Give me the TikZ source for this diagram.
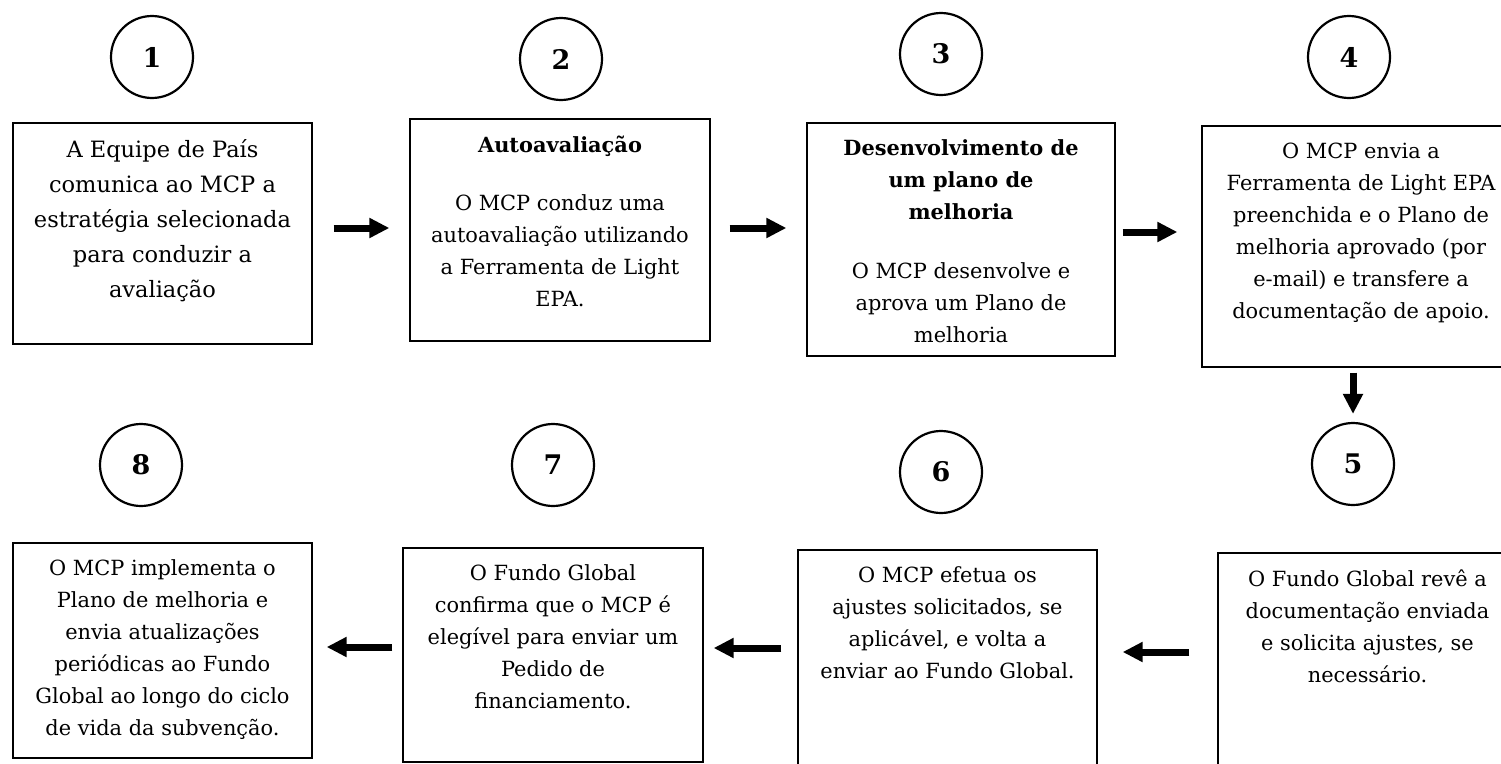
\documentclass[tikz,border=0pt]{standalone}
\usepackage{fontspec}
\setmainfont{DejaVu Serif}
\usetikzlibrary{arrows.meta}
\begin{document}
\begin{tikzpicture}[x=1pt,y=-1pt,
  box/.style={draw=black, line width=1.3pt, inner sep=0pt},
  num/.style={circle, draw=black, line width=2.2pt, minimum size=82pt, inner sep=0pt,
    font=\fontsize{27}{30}\selectfont\bfseries},
  txt/.style={anchor=north, align=center, inner sep=0pt, font=\fontsize{20.9}{32}\selectfont},
  bigtxt/.style={anchor=north, align=center, inner sep=0pt, font=\fontsize{22.5}{35}\selectfont},
  arr/.style={line width=7pt, -{Triangle[length=20pt,width=19pt]}}]
\useasboundingbox (0,0) rectangle (1501,763);
\clip (0,0) rectangle (1501,763);
\fill[white] (0,0) rectangle (1501,763);

% number circles
\node[num] (c1) at (152,57) {1};
\node[num] (c2) at (561,59) {2};
\node[num] (c3) at (941,54) {3};
\node[num] (c4) at (1349,57) {4};
\node[num] (c5) at (1353,464) {5};
\node[num] (c6) at (941,472) {6};
\node[num] (c7) at (553,465) {7};
\node[num] (c8) at (141,465) {8};

% boxes
\node[box, minimum width=299pt, minimum height=221pt] (b1) at (162.5,233.5) {};
\node[box, minimum width=300pt, minimum height=222pt] (b2) at (560,230) {};
\node[box, minimum width=308pt, minimum height=233pt] (b3) at (961,239.5) {};
\node[box, minimum width=318pt, minimum height=241pt] (b4) at (1361,246.5) {};
\node[box, minimum width=299pt, minimum height=227pt] (b5) at (1367.5,666.5) {};
\node[box, minimum width=299pt, minimum height=230pt] (b6) at (947.5,665) {};
\node[box, minimum width=300pt, minimum height=214pt] (b7) at (553,655) {};
\node[box, minimum width=299pt, minimum height=215pt] (b8) at (162.5,650.5) {};

% texts
\node[bigtxt] (t1) at ([yshift=-17pt]b1.north) {A Equipe de País\\comunica ao MCP a\\estratégia selecionada\\para conduzir a\\avaliação};
\node[txt] (t2) at ([yshift=-17pt]b2.north) {\textbf{Autoavaliação}\\[26pt]O MCP conduz uma\\autoavaliação utilizando\\a Ferramenta de Light\\EPA.};
\node[txt] (t3) at ([yshift=-17pt]b3.north) {\textbf{Desenvolvimento de}\\\textbf{um plano de}\\\textbf{melhoria}\\[27pt]O MCP desenvolve e\\aprova um Plano de\\melhoria};
\node[txt] (t4) at ([yshift=-17pt]b4.north) {O MCP envia a\\Ferramenta de Light EPA\\preenchida e o Plano de\\melhoria aprovado (por\\e-mail) e transfere a\\documentação de apoio.};
\node[txt] (t5) at ([yshift=-17pt]b5.north) {O Fundo Global revê a\\documentação enviada\\e solicita ajustes, se\\necessário.};
\node[txt] (t6) at ([yshift=-17pt]b6.north) {O MCP efetua os\\ajustes solicitados, se\\aplicável, e volta a\\enviar ao Fundo Global.};
\node[txt] (t7) at ([yshift=-17pt]b7.north) {O Fundo Global\\confirma que o MCP é\\elegível para enviar um\\Pedido de\\financiamento.};
\node[txt] (t8) at ([yshift=-17pt]b8.north) {O MCP implementa o\\Plano de melhoria e\\envia atualizações\\periódicas ao Fundo\\Global ao longo do ciclo\\de vida da subvenção.};

% arrows
\draw[arr, shorten <=21pt, shorten >=20pt] (b1.east |- 0,228) -- (b2.west |- 0,228);
\draw[arr, shorten <=19pt, shorten >=20pt] (b2.east |- 0,228) -- (b3.west |- 0,228);
\draw[arr, shorten <=7pt, shorten >=24pt] (b3.east |- 0,232) -- (b4.west |- 0,232);
\draw[arr, shorten <=5pt, shorten >=8pt] (b4.south -| c5.north) -- (c5.north);
\draw[arr, shorten <=28pt, shorten >=25pt] (b5.west |- 0,652) -- (b6.east |- 0,652);
\draw[arr, shorten <=16pt, shorten >=10pt] (b6.west |- 0,648) -- (b7.east |- 0,648);
\draw[arr, shorten <=10pt, shorten >=14pt] (b7.west |- 0,647) -- (b8.east |- 0,647);
\end{tikzpicture}
\end{document}
